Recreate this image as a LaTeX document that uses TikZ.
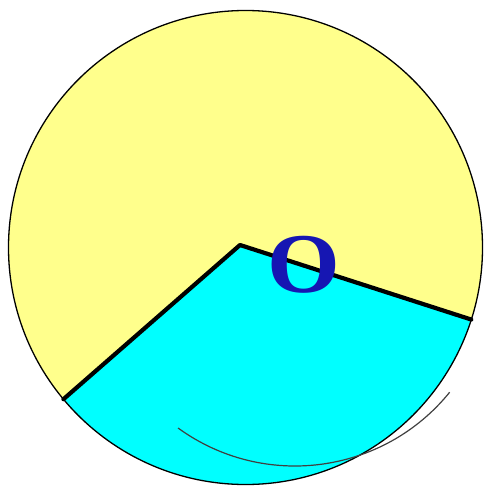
\documentclass[tikz,border=0pt]{standalone}
\usepackage{fontspec}
\newfontfamily\labelfont{Liberation Serif}
\usepackage{tikz}
\usetikzlibrary{calc}
\definecolor{paleyellow}{RGB}{255,255,140}
\definecolor{brightcyan}{RGB}{0,255,255}
\definecolor{inkblue}{RGB}{22,22,178}
\begin{document}
\begin{tikzpicture}[x=1pt,y=-1pt,rim/.style={draw=black,line width=1.3pt},edge/.style={line width=4.2pt,line cap=round,line join=round},trace/.style={draw=black!75,line width=1.2pt},letter/.style={font=\labelfont\bfseries\fontsize{85}{85}\selectfont,text=inkblue,inner sep=0pt,xscale=1.1}]
\useasboundingbox (0,0) rectangle (483,486);
\coordinate (C) at (245.5,247.5);
\coordinate (V) at (240,245);
\coordinate (A) at ($(C)+(140.2:237)$);
\coordinate (B) at ($(C)+(17.7:237)$);
\coordinate (P) at (295,267);
% disc and lower sector
\fill[paleyellow] (C) circle[radius=237];
\fill[brightcyan] (V) -- (A) arc[start angle=140.2,end angle=17.7,radius=237] -- cycle;
\draw[rim] (C) circle[radius=237];
\draw[trace] ($(P)+(126:199)$) arc[start angle=126,end angle=39,radius=199];
\draw[edge] (A) -- (V) -- (B);
\node[letter] (O) at (304,265) {O};
\end{tikzpicture}
\end{document}
